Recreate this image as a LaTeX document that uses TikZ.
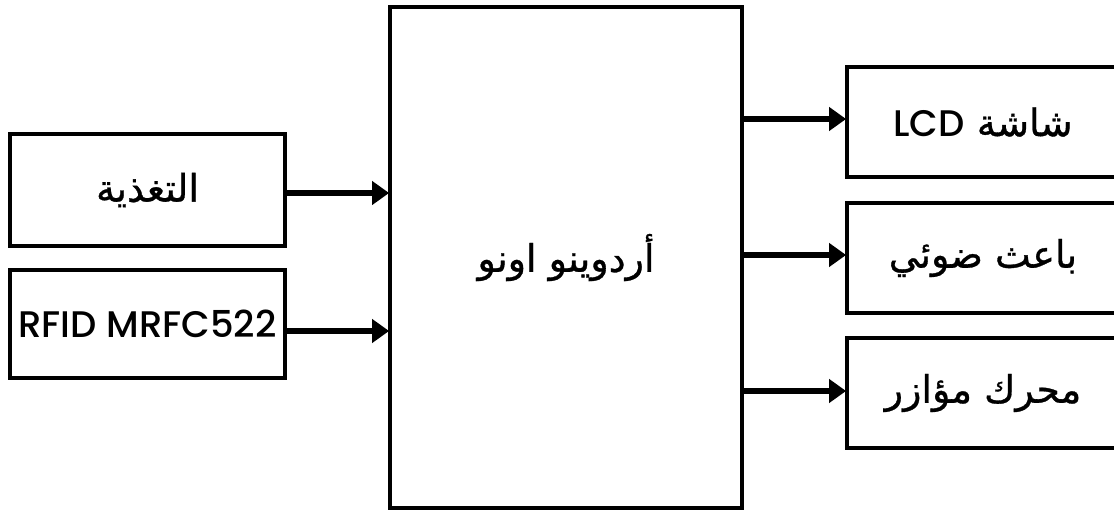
\documentclass[tikz,border=0pt]{standalone}
\usepackage{fontspec}
\IfFontExistsTF{Poppins Medium}{\setmainfont{Poppins Medium}}{\setmainfont{Poppins}[FakeBold=1.2]}
\newfontfamily\arabicfont[Script=Arabic,FakeBold=0.8]{DejaVu Sans}
\TeXXeTstate=1
\usetikzlibrary{arrows.meta}
\begin{document}
\begin{tikzpicture}[x=1pt,y=-1pt,
  blk/.style={draw, line width=3.8pt, minimum width=#1, inner sep=0pt, font=\fontsize{37}{40}\selectfont},
  ar/.style={font=\fontsize{38}{42}\selectfont\arabicfont},
  conn/.style={line width=6pt, -{Triangle[length=17pt,width=23pt]}, shorten >=-1pt}]
\useasboundingbox (0,0) rectangle (1114,510);
\node[blk=275pt, minimum height=112pt, ar] (pwr) at (147.5,190) {\beginR التغذية\endR};
\node[blk=275pt, minimum height=108pt] (rfid) at (147.5,324) {RFID MRFC522};
\node[blk=352pt, minimum height=501pt, ar] (ard) at (566,257.5) {\beginR أردوينو اونو\endR};
\node[blk=272pt, minimum height=110pt, ar] (lcd) at (983,122) {\beginR شاشة \beginL{\rmfamily\fontsize{37}{40}\selectfont LCD}\endL\endR};
\node[blk=272pt, minimum height=110pt, ar] (led) at (983,258) {\beginR باعث ضوئي\endR};
\node[blk=272pt, minimum height=110pt, ar] (srv) at (983,393) {\beginR محرك مؤازر\endR};
\draw[conn] (pwr.east |- 0,193) -- (ard.west |- 0,193);
\draw[conn] (rfid.east |- 0,331) -- (ard.west |- 0,331);
\draw[conn] (ard.east |- 0,119) -- (lcd.west |- 0,119);
\draw[conn] (ard.east |- 0,255) -- (led.west |- 0,255);
\draw[conn] (ard.east |- 0,391) -- (srv.west |- 0,391);
\end{tikzpicture}
\end{document}
